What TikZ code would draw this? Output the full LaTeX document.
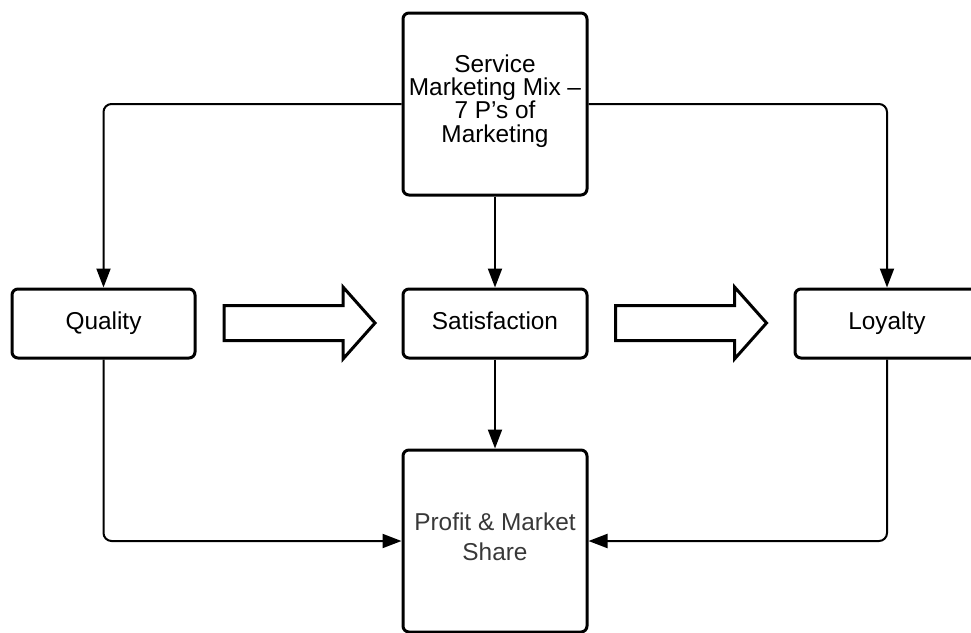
\documentclass[tikz,border=0pt]{standalone}
\usepackage{fontspec}
\setmainfont{Liberation Sans}
\usetikzlibrary{arrows.meta}

\tikzset{
  box/.style={draw, line width=1.5pt, rounded corners=3pt, align=center,
    inner sep=2pt, font=\fontsize{12.2}{11.6}\selectfont},
  onerow/.style={text height=8.8pt, text depth=2.6pt},
  link/.style={line width=1pt, rounded corners=4pt,
    -{Triangle[length=9.5pt,width=7pt]}},
  bigarrow/.style={draw, line width=1.5pt, line join=miter, fill=white}
}

\begin{document}
\begin{tikzpicture}[x=0.5pt, y=-0.5pt]
  \useasboundingbox (0,0) rectangle (971,633);

  % boxes
  \node[box, minimum width=92pt, minimum height=91pt,
    label={[align=center, yshift=1.5pt, font=\fontsize{12.2}{11.6}\selectfont]center:{Service\\Marketing Mix --\\7 P’s of\\Marketing}}]
    (mix) at (495,104) {};
  \node[box, onerow, minimum width=91.5pt, minimum height=34.5pt] (quality) at (103.5,323.5) {Quality};
  \node[box, onerow, minimum width=92pt, minimum height=34.5pt] (sat) at (495,323.5) {Satisfaction};
  \node[box, onerow, minimum width=92pt, minimum height=34.5pt] (loyalty) at (887,323.5) {Loyalty};
  \node[box, minimum width=92pt, minimum height=91pt,
    label={[align=center, yshift=2pt, text=black!78, font=\fontsize{12.2}{15}\selectfont]center:{Profit \& Market\\Share}}]
    (profit) at (495,541) {};

  % connectors
  \draw[link] (mix.west) -| (quality.north);
  \draw[link] (mix.east) -| (loyalty.north);
  \draw[link] (mix.south) -- (sat.north);
  \draw[link] (sat.south) -- (profit.north);
  \draw[link] (quality.south) |- (profit.west);
  \draw[link] (loyalty.south) |- (profit.east);

  % hollow arrows
  \foreach \x in {224,615.5}
    \draw[bigarrow] (\x,305.5) -- ++(119,0) -- ++(0,-18.5) -- ++(32,36)
      -- ++(-32,36) -- ++(0,-18.5) -- ++(-119,0) -- cycle;
\end{tikzpicture}
\end{document}
